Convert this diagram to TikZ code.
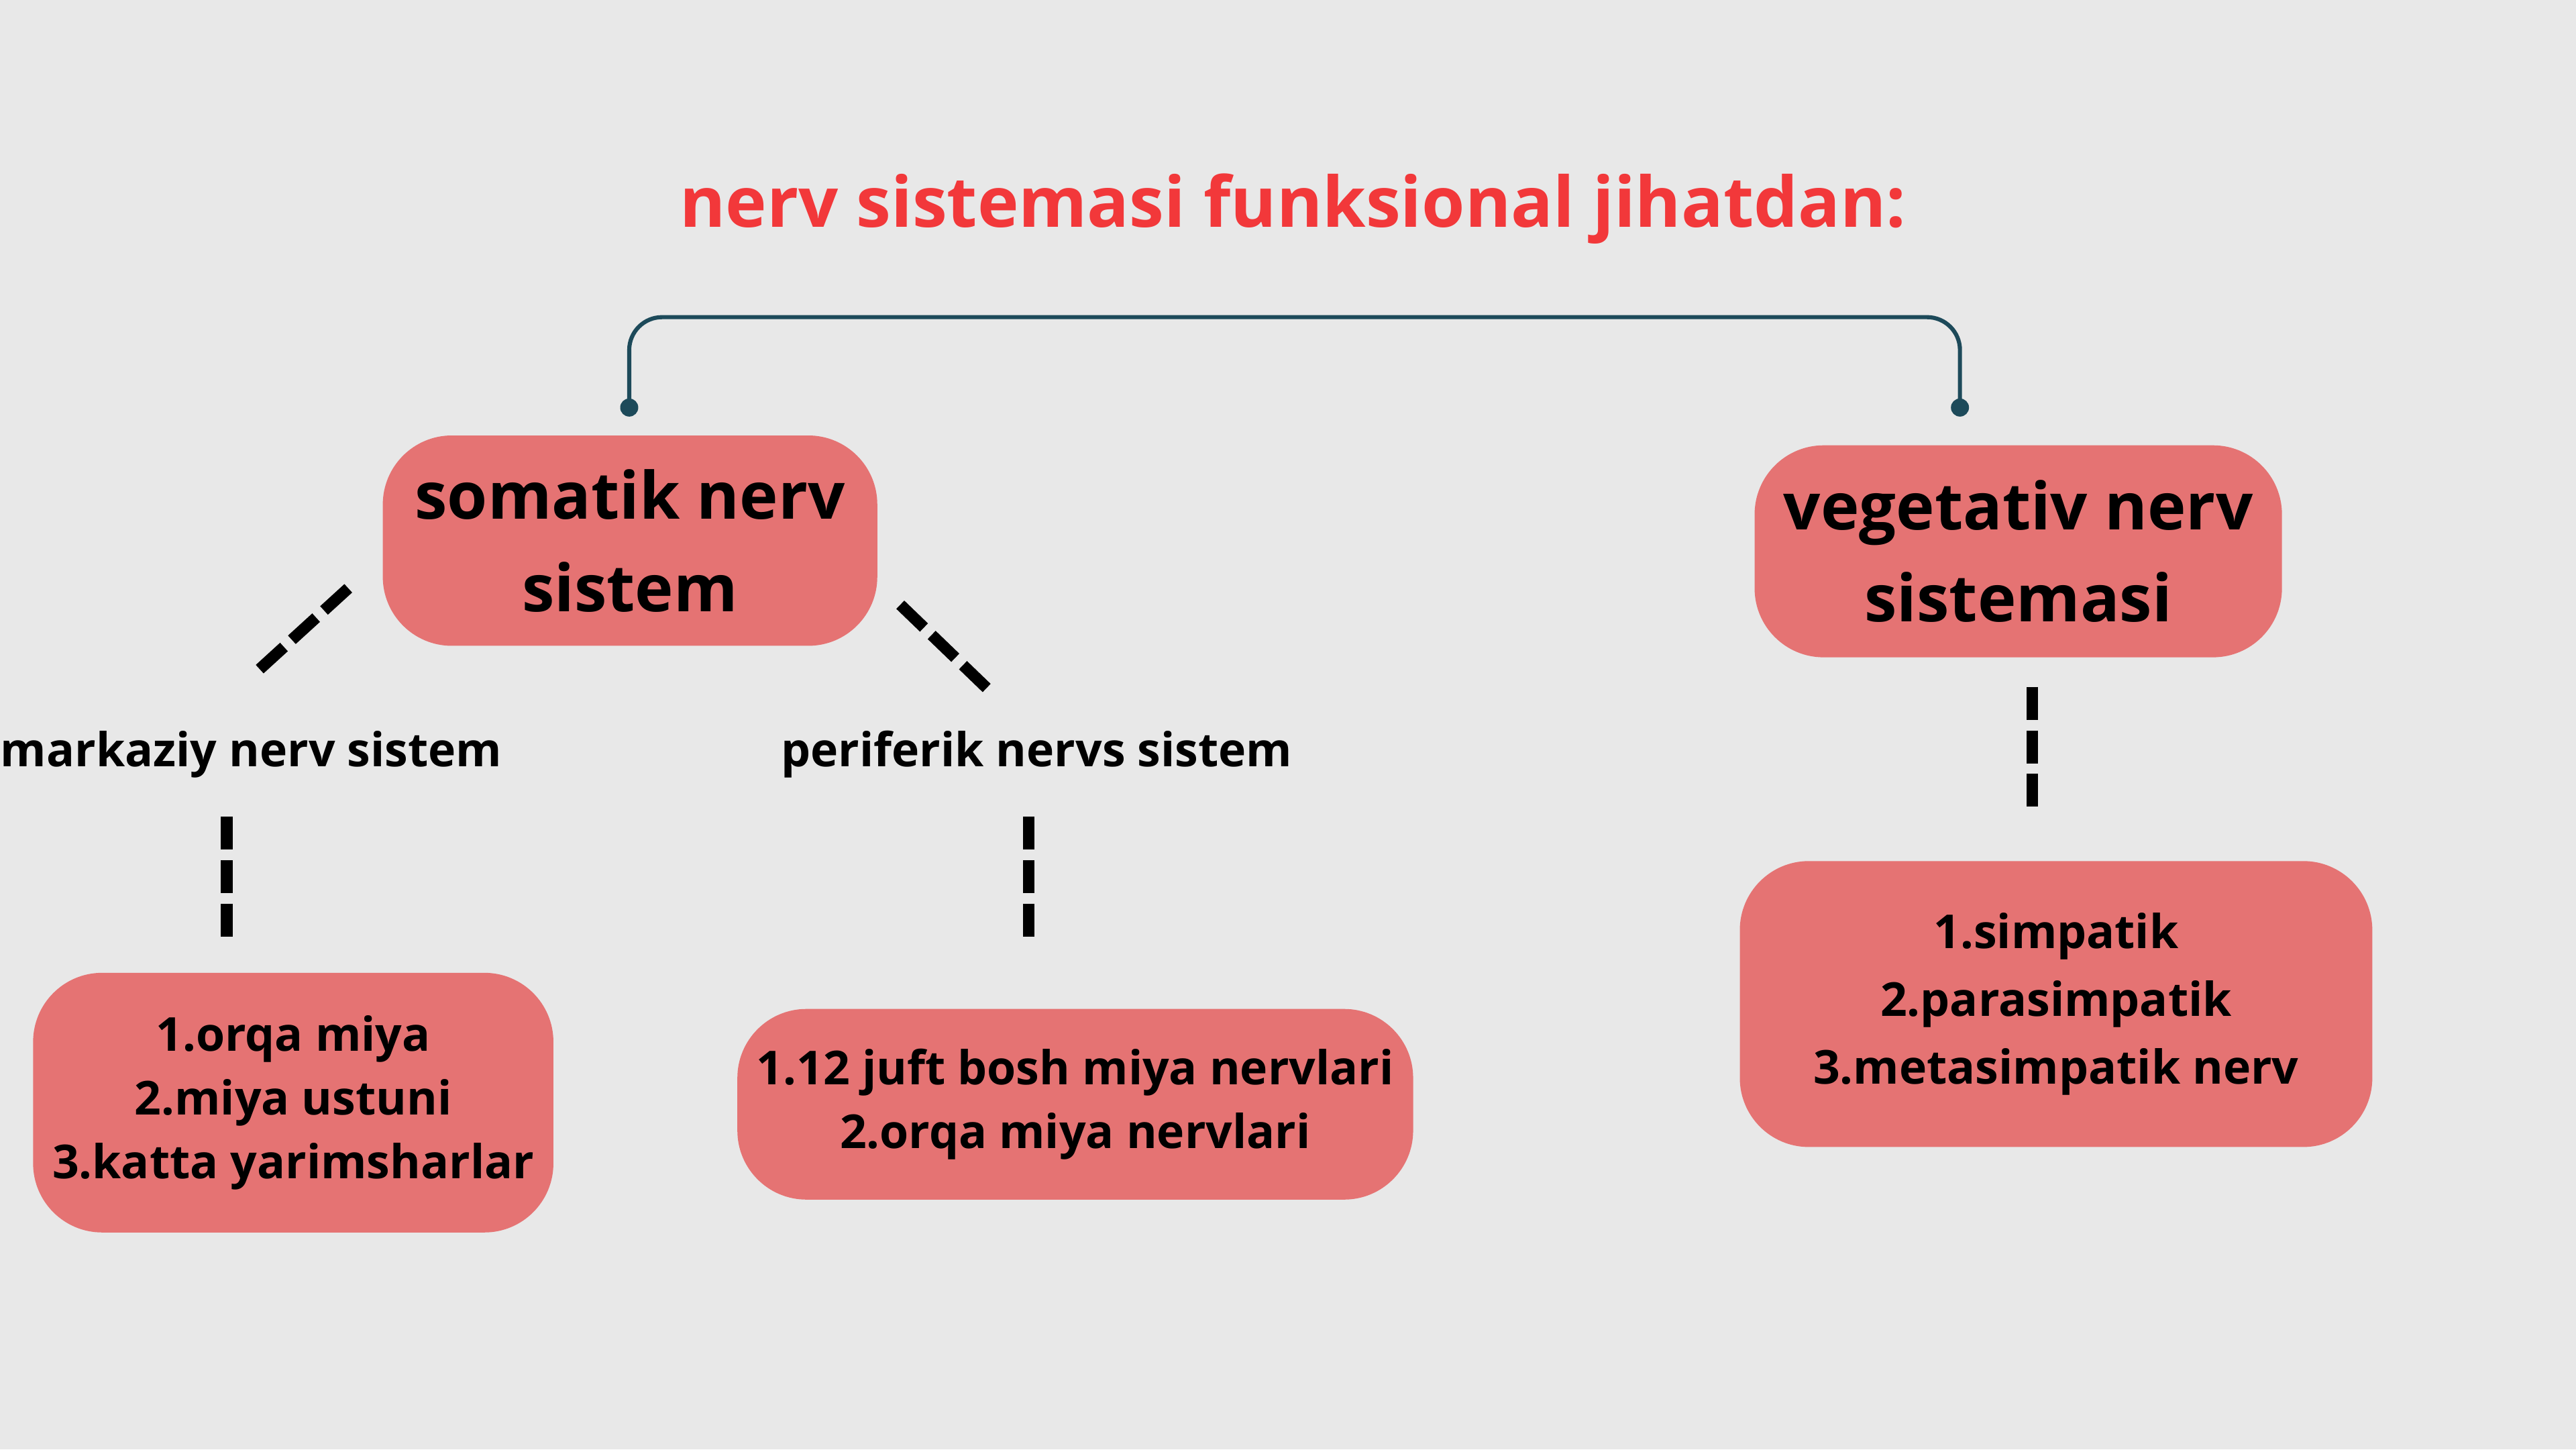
\documentclass[tikz,border=0pt]{standalone}
\usepackage{fontspec}
\setmainfont{Open Sans}
\usetikzlibrary{positioning}
\definecolor{bgcol}{HTML}{E8E8E8}
\definecolor{boxcol}{HTML}{E57373}
\definecolor{titlecol}{HTML}{F2383A}
\definecolor{linecol}{HTML}{1D4A5A}
\tikzset{
  box/.style={fill=boxcol, rounded corners=0.42cm, align=center, font=\bfseries\fontsize{8.1pt}{11pt}\selectfont},
  bigbox/.style={box, font=\bfseries\fontsize{11.3pt}{16pt}\selectfont},
  lbl/.style={font=\bfseries\fontsize{8.1pt}{10pt}\selectfont},
  dashlink/.style={line width=0.07cm, dash pattern=on 0.2cm off 0.065cm},
}
\begin{document}
\begin{tikzpicture}
  \fill[bgcol] (0,0) rectangle (15.68,8.82);
  \useasboundingbox (0,0) rectangle (15.68,8.82);

  \node[text=titlecol, font=\bfseries\fontsize{12.1pt}{15pt}\selectfont] (title) at (7.87,7.55) {nerv sistemasi funksional jihatdan:};

  \node[bigbox, minimum width=3.01cm, minimum height=1.28cm] (som) at (3.835,5.53) {somatik nerv\\sistem};
  \node[bigbox, minimum width=3.21cm, minimum height=1.29cm] (veg) at (12.285,5.465) {vegetativ nerv\\sistemasi};

  % bracket
  \coordinate (bl) at (3.83,6.34);
  \coordinate (br) at (11.93,6.34);
  \draw[linecol, line width=0.025cm, rounded corners=0.2cm] (bl) |- (7.88,6.89) -| (br);
  \fill[linecol] (bl) circle (0.055) (br) circle (0.055);

  \node[lbl] (mark) at (1.53,4.23) {markaziy nerv sistem};
  \node[lbl] (peri) at (6.31,4.23) {periferik nervs sistem};

  \node[box, minimum width=3.13cm, minimum height=1.58cm] (mbox) at (1.785,2.11) {1.orqa miya\\2.miya ustuni\\3.katta yarimsharlar};
  \node[box, minimum width=4.07cm, minimum height=1.16cm] (pbox) at (6.545,2.10) {1.12 juft bosh miya nervlari\\2.orqa miya nervlari};
  \node[box, minimum width=3.85cm, minimum height=1.74cm, font=\bfseries\fontsize{8.1pt}{11.7pt}\selectfont] (vbox) at (12.515,2.71) {1.simpatik\\2.parasimpatik\\3.metasimpatik nerv};

  % dashed links
  \coordinate (a1) at (2.12,5.24); \coordinate (a2) at (1.55,4.72);
  \coordinate (b1) at (5.48,5.14); \coordinate (b2) at (6.03,4.61);
  \coordinate (c1) at (1.38,3.85); \coordinate (c2) at (1.38,3.12);
  \coordinate (d1) at (6.26,3.85); \coordinate (d2) at (6.26,3.12);
  \coordinate (e1) at (12.37,4.64); \coordinate (e2) at (12.37,3.90);
  \draw[dashlink] (a1) -- (a2);
  \draw[dashlink] (b1) -- (b2);
  \draw[dashlink] (c1) -- (c2);
  \draw[dashlink] (d1) -- (d2);
  \draw[dashlink] (e1) -- (e2);
\end{tikzpicture}
\end{document}
